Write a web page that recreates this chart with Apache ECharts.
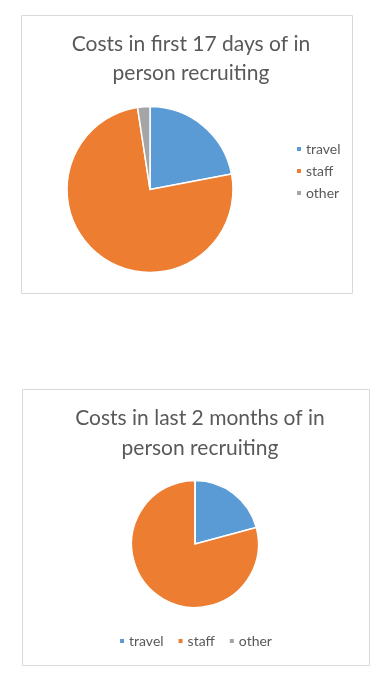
<!DOCTYPE html>
<html><head><meta charset="utf-8">
<script src="https://cdn.jsdelivr.net/npm/echarts@6/dist/echarts.min.js"></script>
<style>html,body{margin:0;padding:0;background:#fff;}#c{width:390px;height:683px;}</style>
</head><body><div id="c"></div>
<script>
const categories = ['travel', 'staff', 'other'];
const colors = ['#5B9BD5', '#ED7D31', '#A5A5A5'];
const title1 = 'Costs in first 17 days of in\nperson recruiting';
const title2 = 'Costs in last 2 months of in\nperson recruiting';
const values1 = [22, 75.6, 2.4];
const values2 = [20.8, 79.2, 0];

const FONT = 'Lato';
const chart = echarts.init(document.getElementById('c'), null, {renderer: 'canvas'});
const mk = vals => categories.map((n, i) => ({name: n, value: vals[i], itemStyle: {color: colors[i]}}));
chart.setOption({
  animation: false,
  backgroundColor: '#fff',
  graphic: [
    {type: 'rect', shape: {x: 21.5, y: 15.5, width: 331, height: 278}, style: {fill: 'none', stroke: '#d9d9d9', lineWidth: 1}},
    {type: 'rect', shape: {x: 22.5, y: 389.5, width: 347, height: 276}, style: {fill: 'none', stroke: '#d9d9d9', lineWidth: 1}}
  ],
  title: [
    {text: title1, left: 186, top: 25, textAlign: 'center',
     textStyle: {fontFamily: FONT, fontSize: 21, fontWeight: 'normal', color: '#595959', lineHeight: 29}},
    {text: title2, left: 195, top: 398, textAlign: 'center',
     textStyle: {fontFamily: FONT, fontSize: 21, fontWeight: 'normal', color: '#595959', lineHeight: 30}}
  ],
  legend: [
    {seriesIndex: 0, data: categories, orient: 'vertical', left: 290, top: 137, itemWidth: 6, itemHeight: 6, itemGap: 8,
     icon: 'rect', textStyle: {fontFamily: FONT, fontSize: 14, color: '#595959', lineHeight: 14, padding: [0,0,0,-1]}},
    {seriesIndex: 1, data: categories, orient: 'horizontal', left: 'center', top: 629, itemWidth: 6, itemHeight: 6, itemGap: 13,
     icon: 'rect', textStyle: {fontFamily: FONT, fontSize: 14, color: '#595959', padding: [0,0,0,-1]}}
  ],
  series: [
    {type: 'pie', center: [150, 189.5], radius: 83, startAngle: 90, clockwise: true,
     label: {show: false}, labelLine: {show: false}, silent: true,
     itemStyle: {borderColor: '#fff', borderWidth: 1.5}, data: mk(values1)},
    {type: 'pie', center: [195, 544], radius: 63.5, startAngle: 90, clockwise: true,
     label: {show: false}, labelLine: {show: false}, silent: true,
     itemStyle: {borderColor: '#fff', borderWidth: 1.5}, data: mk(values2)}
  ]
});
</script></body></html>
